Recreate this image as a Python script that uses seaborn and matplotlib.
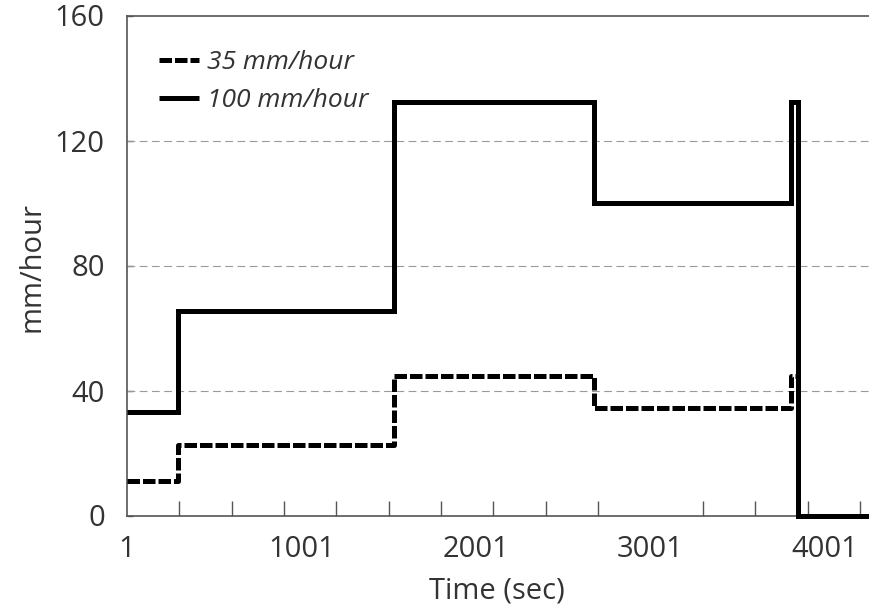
import matplotlib
matplotlib.use("Agg")
import matplotlib.pyplot as plt
import seaborn as sns
import pandas as pd

# ---- data ----
time_s = [1, 295, 1531, 2677, 3804, 3847, 4401]
rate_100 = [33.0, 65.5, 132.2, 100.0, 132.2, 0.0, 0.0]
rate_35 = [11.1, 22.6, 44.7, 34.3, 44.7, 0.0, 0.0]
series_labels = ["35 mm/hour", "100 mm/hour"]
x_tick_marks = [1 + 300 * k for k in range(1, 15)]
x_label_values = [1, 1001, 2001, 3001, 4001]
y_ticks = [0, 40, 80, 120, 160]

sns.set_theme(style="white")
plt.rcParams['font.family'] = ['Open Sans', 'DejaVu Sans']

fig = plt.figure(figsize=(8.7, 6.11), dpi=100)
ax = fig.add_axes([127 / 870, (611 - 515.5) / 611, 767.8 / 870, 500 / 611])

df35 = pd.DataFrame({"t": time_s, "v": rate_35})
df100 = pd.DataFrame({"t": time_s, "v": rate_100})

sns.lineplot(data=df35, x="t", y="v", ax=ax, color="black", lw=3.6,
             drawstyle="steps-post", label=series_labels[0], zorder=3)
ax.lines[-1].set_dashes([2.5, 0.6])
ax.lines[-1].set_dash_capstyle("butt")
ax.lines[-1].set_solid_joinstyle("miter")
ax.lines[-1].set_clip_on(False)
sns.lineplot(data=df100, x="t", y="v", ax=ax, color="black", lw=3.6,
             drawstyle="steps-post", label=series_labels[1], zorder=4)
ax.lines[-1].set_solid_joinstyle("miter")
ax.lines[-1].set_solid_capstyle("butt")
ax.lines[-1].set_clip_on(False)

ax.set_xlim(1, 4401)
ax.set_ylim(0, 160)
ax.set_xticks(x_label_values)
ax.set_xticklabels([str(v) for v in x_label_values])
ax.set_xticks(x_tick_marks, minor=True)
ax.set_yticks(y_ticks)
ax.set_yticklabels([str(v) for v in y_ticks])

for v in [40, 80, 120]:
    ax.axhline(v, color="#9a9a9a", lw=0.8, dashes=(7, 4), zorder=1)

for s in ["left", "bottom", "top", "right"]:
    ax.spines[s].set_color("#555555")
    ax.spines[s].set_linewidth(1.2)

ax.tick_params(axis="x", which="major", bottom=True, direction="in", length=0,
               labelsize=21, labelcolor="#333333", pad=14)
ax.tick_params(axis="x", which="minor", bottom=True, direction="in", length=11,
               width=1, color="#555555")
ax.tick_params(axis="y", left=True, direction="in", length=4, width=1,
               color="#555555", labelsize=21, labelcolor="#333333", pad=16)

ax.set_xlabel("Time (sec)", fontsize=21, color="#333333", labelpad=9)
ax.set_ylabel("mm/hour", fontsize=21, color="#333333")
ax.xaxis.label.set_position(((497 - 127) / 767.8, 0))
ax.yaxis.set_label_coords((47 - 127) / 767.8, (515.5 - 267) / 500)

leg = ax.legend(loc="upper left", bbox_to_anchor=(21 / 767.8, 1 - 24 / 500),
                frameon=False, borderaxespad=0, handlelength=1.55,
                handletextpad=0.3, labelspacing=0.5,
                prop={"style": "italic", "size": 19})
for t in leg.get_texts():
    t.set_color("#333333")

fig.savefig("out.png", dpi=100)
